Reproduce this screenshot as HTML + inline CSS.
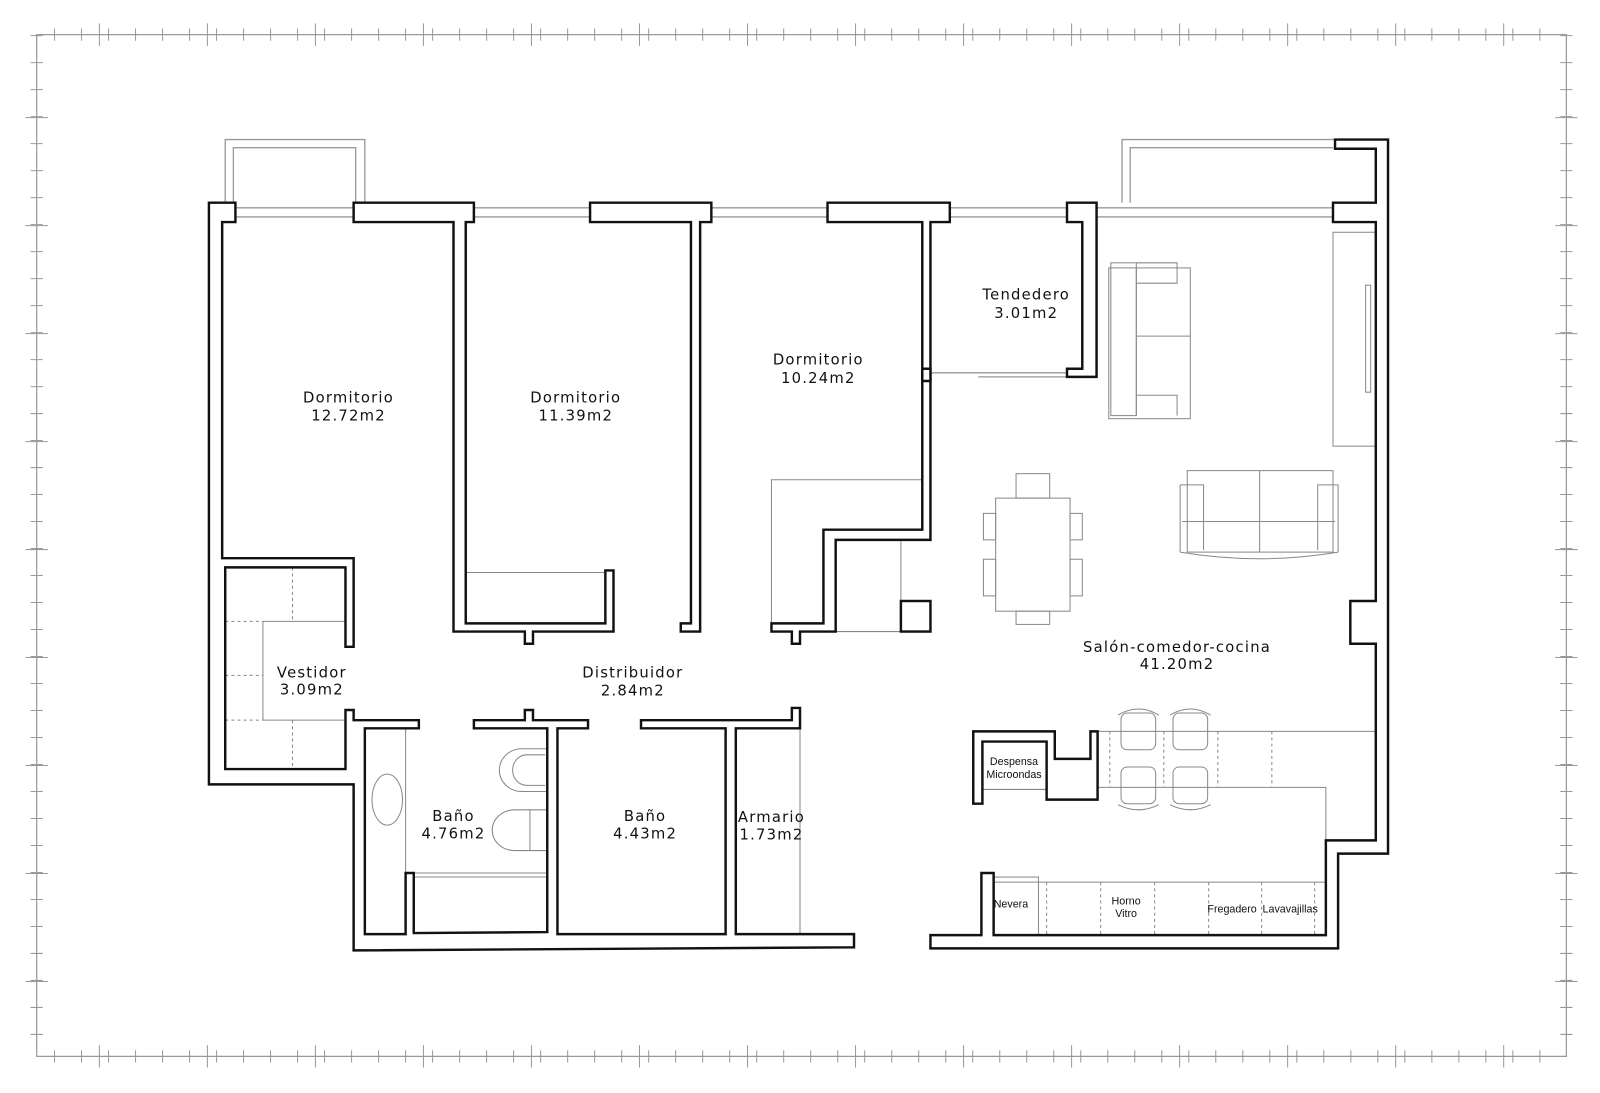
<!DOCTYPE html>
<html><head><meta charset="utf-8"><style>
html,body{margin:0;padding:0;background:#fff;}
svg{display:block;}
text{font-family:"DejaVu Sans","Liberation Sans",sans-serif;fill:#111;}
.l{font-size:14.5px;letter-spacing:1.2px;text-anchor:middle;}
.s{font-family:"Liberation Sans",sans-serif;font-size:10.5px;text-anchor:middle;}
</style></head><body>
<svg width="1600" height="1093" viewBox="0 0 1570 1073" preserveAspectRatio="none" xmlns="http://www.w3.org/2000/svg">
<rect width="1570" height="1073" fill="#fff"/>
<!-- frame -->
<g stroke="#999" fill="none" stroke-width="1.2">
<path d="M36,34H1537V1037H36Z"/>
</g>
<g stroke="#999" fill="none">
<line x1="36" y1="34" x2="1537" y2="34" stroke-width="12" stroke-dasharray="1 25.5" stroke-dashoffset="-17"/>
<line x1="36" y1="34" x2="1537" y2="34" stroke-width="22" stroke-dasharray="1 105" stroke-dashoffset="-61"/>
<line x1="36" y1="1037" x2="1537" y2="1037" stroke-width="12" stroke-dasharray="1 25.5" stroke-dashoffset="-17"/>
<line x1="36" y1="1037" x2="1537" y2="1037" stroke-width="22" stroke-dasharray="1 105" stroke-dashoffset="-61"/>
<line x1="36" y1="34" x2="36" y2="1037" stroke-width="12" stroke-dasharray="1 25.5" stroke-dashoffset="-27"/>
<line x1="36" y1="34" x2="36" y2="1037" stroke-width="22" stroke-dasharray="1 105" stroke-dashoffset="-81"/>
<line x1="1537" y1="34" x2="1537" y2="1037" stroke-width="12" stroke-dasharray="1 25.5" stroke-dashoffset="-27"/>
<line x1="1537" y1="34" x2="1537" y2="1037" stroke-width="22" stroke-dasharray="1 105" stroke-dashoffset="-81"/>
</g>
<!-- windows & balconies (gray) -->
<g stroke="#999" fill="none" stroke-width="1.3">
<path d="M221,199V137H358V199M229,199V145H349V199"/>
<path d="M1101,199V137H1310M1109,199V145H1308"/>
<path d="M231,204H1308M231,213H1308"/>
<path d="M913,366H1047M960,370H1047"/>
</g>
<!-- furniture & fixtures gray -->
<g stroke="#888" fill="none" stroke-width="1">
<path d="M457,562H594"/>
<path d="M757,612V471H905M884,530V590M820,620H884"/>
<path d="M258,610V707M258,610H339M258,707H339"/>
<path d="M287,557V610M287,707V755M221,610H258M221,663H258M221,707H258" stroke-dasharray="3 3"/>
<path d="M398,715V857H537M406,861H537"/>
<ellipse cx="380" cy="785" rx="15" ry="25"/>
<path d="M537,735H512A22,21 0 0 0 512,777H537M535,741H517A14,15 0 0 0 517,771H535"/>
<path d="M537,795H505A22,20 0 0 0 505,835H537M520,795V835"/>
<path d="M785,715V917"/>
<rect x="1308" y="228" width="42" height="210"/>
<rect x="1340" y="280" width="5" height="105"/>
<rect x="1088" y="263" width="80" height="148"/>
<rect x="1090" y="258" width="25" height="150"/>
<path d="M1115,263V408M1115,330H1168M1115,278H1155V258H1115M1115,388H1155V408"/>
<rect x="977" y="489" width="73" height="111"/>
<rect x="997" y="465" width="33" height="24"/><rect x="997" y="600" width="33" height="13"/>
<rect x="965" y="504" width="12" height="26"/><rect x="965" y="549" width="12" height="36"/>
<rect x="1050" y="504" width="12" height="26"/><rect x="1050" y="549" width="12" height="36"/>
<rect x="1165" y="462" width="143" height="80"/>
<path d="M1158,476H1181V540M1158,476V542M1293,540V476H1313V542M1160,512H1310M1236,462V542M1158,542Q1236,555 1313,542"/>
<path d="M1077,718H1350M1077,773H1301V825M964,775H1027M975,866H1301"/>
<path d="M1089,718V773M1142,718V773M1195,718V773M1248,718V773M1027,866V918M1080,866V918M1133,866V918M1186,866V918M1238,866V918M1290,866V918" stroke-dasharray="3 3"/>
<rect x="965" y="861" width="54" height="57"/>
<rect x="1100" y="700" width="34" height="36" rx="6"/><rect x="1151" y="700" width="34" height="36" rx="6"/>
<rect x="1100" y="753" width="34" height="36" rx="6"/><rect x="1151" y="753" width="34" height="36" rx="6"/>
<path d="M1097,702Q1117,690 1137,702M1148,702Q1168,690 1188,702M1097,790Q1117,800 1137,790M1148,790Q1168,800 1188,790"/>
</g>
<!-- walls -->
<g stroke="#111" fill="#fff" stroke-width="2.4" stroke-linejoin="miter">
<path d="M205,199H231V218H218V548H347V635H339V557H221V755H339V697H347V707H411V715H358V917H398V857H406V916L537,915V715H465V707H515V697H523V707H577V715H547V917H712V715H629V707H777V695H785V715H722V917H838V930L347,933V770H205Z" fill="none"/>
<path d="M347,199H465V218H457V612H594V560H602V620H523V632H515V620H445V218H347Z"/>
<path d="M579,199H698V218H687V620H668V612H678V218H579Z"/>
<path d="M812,199H932V218H913V530H820V620H785V632H777V620H757V612H808V520H905V218H812Z"/>
<rect x="884" y="590" width="29" height="30"/>
<path d="M905,362h8v12h-8z"/>
<path d="M1047,199H1076V370H1047V362H1062V218H1047Z"/>
<path d="M1308,199V218H1350V590H1325V632H1350V825H1301V918H975V857H963V918H913V931H1313V838H1362V137H1310V146H1350V199Z"/>
<path d="M964,789H955V718H1035V745H1070V718H1077V785H1027V728H964Z"/>
</g>
<!-- labels -->
<text class="l" x="342" y="395">Dormitorio</text><text class="l" x="342" y="413">12.72m2</text>
<text class="l" x="565" y="395">Dormitorio</text><text class="l" x="565" y="413">11.39m2</text>
<text class="l" x="803" y="358">Dormitorio</text><text class="l" x="803" y="376">10.24m2</text>
<text class="l" x="1007" y="294">Tendedero</text><text class="l" x="1007" y="312">3.01m2</text>
<text class="l" x="306" y="665">Vestidor</text><text class="l" x="306" y="682">3.09m2</text>
<text class="l" x="621" y="665">Distribuidor</text><text class="l" x="621" y="683">2.84m2</text>
<text class="l" x="445" y="806">Baño</text><text class="l" x="445" y="823">4.76m2</text>
<text class="l" x="633" y="806">Baño</text><text class="l" x="633" y="823">4.43m2</text>
<text class="l" x="757" y="807">Armario</text><text class="l" x="757" y="824">1.73m2</text>
<text class="l" x="1155" y="640">Salón-comedor-cocina</text><text class="l" x="1155" y="657">41.20m2</text>
<text class="s" x="995" y="751">Despensa</text><text class="s" x="995" y="764">Microondas</text>
<text class="s" x="992" y="891">Nevera</text>
<text class="s" x="1105" y="888">Horno</text><text class="s" x="1105" y="900">Vitro</text>
<text class="s" x="1209" y="896">Fregadero</text><text class="s" x="1266" y="896">Lavavajillas</text>
</svg>
</body></html>
